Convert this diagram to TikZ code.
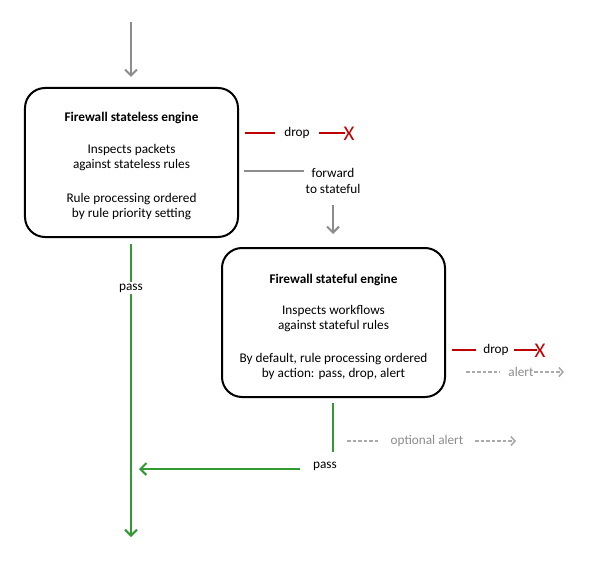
\documentclass[tikz,border=0pt]{standalone}
\usepackage{fontspec}
\setmainfont{Carlito}
\usetikzlibrary{arrows.meta}
\definecolor{cred}{HTML}{C00000}
\definecolor{cgreen}{HTML}{339933}
\definecolor{cgray}{HTML}{8C8C8C}
\definecolor{clgray}{HTML}{AAAAAA}
\begin{document}
\begin{tikzpicture}[x=1bp,y=-1bp,
  engine/.style={draw=black,line width=2bp,rounded corners=20bp,minimum height=149bp,align=center,font=\fontsize{13.3}{15}\selectfont,inner sep=0pt},
  lbl/.style={font=\fontsize{13.3}{15.5}\selectfont,inner sep=0pt,align=center},
  glbl/.style={lbl,text=cgray},
  barb/.style={-{Straight Barb[length=6bp,width=12bp]}},
  smallbarb/.style={-{Straight Barb[length=4bp,width=9bp]}},
  grayline/.style={draw=cgray,line width=2bp},
  redline/.style={draw=cred,line width=2bp},
  greenline/.style={draw=cgreen,line width=2bp},
  dashline/.style={draw=clgray,line width=1.6bp,dash pattern=on 3.5bp off 2bp},
  xmark/.style={text=cred,font=\fontsize{21}{21}\selectfont,inner sep=0pt}
]
\useasboundingbox (0,0) rectangle (597,564);

% engines
\node[engine,minimum width=213bp] (e1) at (131.5,162.5) {\mbox{}\\[1bp]\textbf{Firewall stateless engine}\\[17bp]Inspects packets\\against stateless rules\\[19bp]Rule processing ordered\\by rule priority setting};
\node[engine,minimum width=223bp] (e2) at (333.5,322.5) {\mbox{}\\[3bp]\textbf{Firewall stateful engine}\\[17bp]Inspects workflows\\against stateful rules\\[18bp]By default, rule processing ordered\\by action: pass, drop, alert};

% input arrow
\coordinate (in) at (131,22);
\draw[grayline,barb,shorten >=10bp] (in) -- (in |- e1.north);

% drop from stateless
\coordinate (d1a) at (245,133);
\coordinate (d1b) at (275,133);
\node[lbl] (drop1) at (297,133) {drop};
\coordinate (d1c) at (319,133);
\node[xmark] (x1) at (349,134) {X};
\coordinate (d1d) at (345,133);
\draw[redline] (d1a) -- (d1b);
\draw[redline] (d1c) -- (d1d);

% forward to stateful
\coordinate (f0) at (244,171);
\node[lbl] (fwd) at (333,181) {forward\\to stateful};
\draw[grayline] (f0) -- (f0 -| 304,0);
\coordinate (f1) at (333,205);
\draw[grayline,barb,shorten >=13bp] (f1) -- (f1 |- e2.north);

% pass from stateless
\coordinate (out) at (131,537);
\draw[greenline,barb,shorten <=6bp] (e1.south -| out) -- (out);
\node[lbl,fill=white,inner sep=2bp] (pass1) at (131,288) {pass};

% drop from stateful
\coordinate (d2a) at (452,350);
\coordinate (d2b) at (476,350);
\node[lbl] (drop2) at (496,350) {drop};
\coordinate (d2c) at (514,350);
\coordinate (d2d) at (537,350);
\node[xmark] (x2) at (540,351) {X};
\draw[redline] (d2a) -- (d2b);
\draw[redline] (d2c) -- (d2d);

% alert from stateful
\coordinate (a1) at (466,372);
\coordinate (a2) at (500,372);
\node[glbl] (alert) at (521,372) {alert};
\coordinate (a3) at (534,372);
\coordinate (a4) at (564,372);
\draw[dashline] (a1) -- (a2);
\draw[dashline,smallbarb] (a3) -- (a4);

% pass from stateful
\coordinate (p0) at (333,403);
\coordinate (p1) at (333,452);
\draw[greenline] (p0) -- (p1);
\node[lbl] (pass2) at (325,466) {pass};
\coordinate (p2) at (300,469);
\coordinate (p3) at (139,469);
\draw[greenline,barb] (p2) -- (p3);

% optional alert
\coordinate (o1) at (347,441);
\coordinate (o2) at (378,441);
\node[glbl] (optalert) at (427,441) {optional alert};
\coordinate (o3) at (475,441);
\coordinate (o4) at (516,441);
\draw[dashline] (o1) -- (o2);
\draw[dashline,smallbarb] (o3) -- (o4);
\end{tikzpicture}
\end{document}
